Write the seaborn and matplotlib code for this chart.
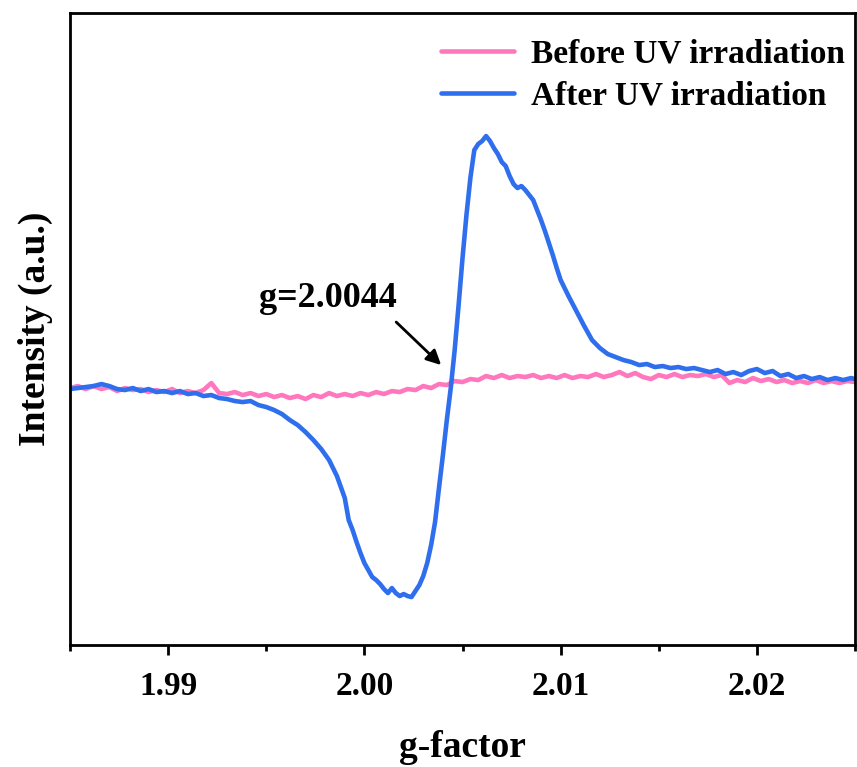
import matplotlib
matplotlib.use("Agg")
import matplotlib.pyplot as plt
import seaborn as sns
import pandas as pd

# EPR spectra (g-factor vs. intensity, arbitrary units)
g_before = [
    1.9850, 1.9854, 1.9858, 1.9862, 1.9866, 1.9870, 1.9874, 1.9878, 1.9882, 1.9886,
    1.9890, 1.9894, 1.9898, 1.9902, 1.9906, 1.9910, 1.9914, 1.9918, 1.9922, 1.9926,
    1.9930, 1.9934, 1.9938, 1.9942, 1.9946, 1.9950, 1.9954, 1.9958, 1.9962, 1.9966,
    1.9970, 1.9974, 1.9978, 1.9982, 1.9986, 1.9990, 1.9994, 1.9998, 2.0002, 2.0006,
    2.0010, 2.0014, 2.0018, 2.0022, 2.0026, 2.0030, 2.0034, 2.0038, 2.0042, 2.0046,
    2.0050, 2.0054, 2.0058, 2.0062, 2.0066, 2.0070, 2.0074, 2.0078, 2.0082, 2.0086,
    2.0090, 2.0094, 2.0098, 2.0102, 2.0106, 2.0110, 2.0114, 2.0118, 2.0122, 2.0126,
    2.0130, 2.0134, 2.0138, 2.0142, 2.0146, 2.0150, 2.0154, 2.0158, 2.0162, 2.0166,
    2.0170, 2.0174, 2.0178, 2.0182, 2.0186, 2.0190, 2.0194, 2.0198, 2.0202, 2.0206,
    2.0210, 2.0214, 2.0218, 2.0222, 2.0226, 2.0230, 2.0234, 2.0238, 2.0242, 2.0246,
    2.0250,
]
intensity_before = [
    0, 2, -1, 2, -1, 1, -3, 0, -2, -1,
    -4, -2, -4, -1, -5, -3, -5, -2, 5, -5,
    -6, -4, -7, -5, -8, -6, -9, -7, -10, -8,
    -11, -7, -9, -5, -8, -6, -8, -5, -7, -4,
    -6, -3, -4, -1, -2, 2, 0, 4, 3, 7,
    6, 9, 8, 12, 10, 13, 10, 12, 11, 13,
    10, 12, 10, 13, 10, 12, 11, 14, 11, 13,
    16, 12, 15, 11, 9, 13, 11, 14, 11, 13,
    12, 14, 11, 13, 5, 8, 6, 10, 7, 9,
    6, 8, 5, 7, 5, 8, 5, 7, 5, 7,
    6,
]

g_after = [
    1.9850, 1.9854, 1.9858, 1.9862, 1.9866, 1.9870, 1.9874, 1.9878, 1.9882, 1.9886,
    1.9890, 1.9894, 1.9898, 1.9902, 1.9906, 1.9910, 1.9914, 1.9918, 1.9922, 1.9926,
    1.9930, 1.9934, 1.9938, 1.9942, 1.9946, 1.9950, 1.9954, 1.9958, 1.9962, 1.9966,
    1.9970, 1.9974, 1.9978, 1.9982, 1.9986, 1.9990,
    1.9992, 1.9994, 1.9996, 1.9998, 2.0000, 2.0002, 2.0004, 2.0006, 2.0008, 2.0010,
    2.0012, 2.0014, 2.0016, 2.0018, 2.0020, 2.0022, 2.0024, 2.0026, 2.0028, 2.0030,
    2.0032, 2.0034, 2.0036, 2.0038, 2.0040, 2.0042, 2.0044, 2.0046, 2.0048, 2.0050,
    2.0052, 2.0054, 2.0056, 2.0058, 2.0060, 2.0062, 2.0064, 2.0066, 2.0068, 2.0070,
    2.0072, 2.0074, 2.0076, 2.0078, 2.0080, 2.0082, 2.0084, 2.0086, 2.0088, 2.0090,
    2.0092, 2.0094, 2.0096, 2.0098, 2.0100,
    2.0104, 2.0108, 2.0112, 2.0116, 2.0120, 2.0124, 2.0128, 2.0132, 2.0136, 2.0140,
    2.0144, 2.0148, 2.0152, 2.0156, 2.0160, 2.0164, 2.0168, 2.0172, 2.0176, 2.0180,
    2.0184, 2.0188, 2.0192, 2.0196, 2.0200, 2.0204, 2.0208, 2.0212, 2.0216, 2.0220,
    2.0224, 2.0228, 2.0232, 2.0236, 2.0240, 2.0244, 2.0248, 2.0250,
]
intensity_after = [
    -1, 0, 1, 2, 4, 2, -1, -2, 0, -3,
    -1, -4, -3, -5, -3, -6, -5, -8, -7, -10,
    -11, -13, -14, -13, -17, -19, -22, -26, -32, -37,
    -44, -52, -61, -72, -88, -110,
    -132, -142, -154, -165, -175, -182, -189, -192, -196, -201,
    -205, -200, -205, -208, -206, -208, -209, -203, -197, -188,
    -175, -157, -134, -100, -67, -32, 0, 38, 83, 130,
    173, 210, 238, 244, 247, 252, 247, 240, 234, 226,
    222, 212, 204, 200, 202, 198, 193, 188, 178, 168,
    157, 145, 133, 120, 108,
    92, 77, 62, 48, 40, 34, 31, 28, 26, 23,
    24, 21, 22, 20, 21, 19, 20, 18, 16, 18,
    14, 16, 13, 17, 19, 15, 17, 12, 14, 10,
    12, 9, 11, 8, 10, 8, 10, 9,
]

labels = ["Before UV irradiation", "After UV irradiation"]
colors = ["#FF78BE", "#2F6FEE"]
x_ticks = [1.99, 2.00, 2.01, 2.02]
x_tick_labels = ["1.99", "2.00", "2.01", "2.02"]
g_marked = 2.0044

sns.set_style("ticks")
plt.rcParams["font.family"] = ["Liberation Serif", "DejaVu Serif"]
plt.rcParams["font.weight"] = "bold"
plt.rcParams["axes.labelweight"] = "bold"
plt.rcParams["text.color"] = "black"
plt.rcParams["axes.labelcolor"] = "black"
plt.rcParams["xtick.color"] = "black"
plt.rcParams["xtick.labelcolor"] = "black"

fig = plt.figure(figsize=(8.57, 7.67), dpi=100)
ax = fig.add_axes([0.0817, 0.159, 0.916, 0.824])

df_before = pd.DataFrame({"g": g_before, "I": intensity_before})
df_after = pd.DataFrame({"g": g_after, "I": intensity_after})

sns.lineplot(data=df_before, x="g", y="I", ax=ax, color=colors[0], lw=3.3,
             label=labels[0], sort=False, estimator=None)
sns.lineplot(data=df_after, x="g", y="I", ax=ax, color=colors[1], lw=3.3,
             label=labels[1], sort=False, estimator=None)

ax.set_xlim(1.985, 2.025)
ax.set_ylim(-257, 375)

ax.set_xticks(x_ticks)
ax.set_xticklabels(x_tick_labels)
ax.set_xticks([1.985, 1.995, 2.005, 2.015, 2.025], minor=True)
ax.set_yticks([])
ax.tick_params(axis="x", which="major", direction="out", length=7, width=2,
               labelsize=24, pad=12, color="black", labelcolor="black")
ax.tick_params(axis="x", which="minor", direction="out", length=4, width=2,
               color="black")
for lab in ax.get_xticklabels():
    lab.set_fontweight("bold")

for side in ["left", "right", "top", "bottom"]:
    ax.spines[side].set_visible(True)
    ax.spines[side].set_linewidth(2)
    ax.spines[side].set_color("black")

ax.set_xlabel("g-factor", fontsize=27, fontweight="bold", labelpad=20, color="black")
ax.set_ylabel("Intensity (a.u.)", fontsize=27, fontweight="bold", labelpad=12, color="black")

# marker for the zero crossing of the derivative signal
ax.text(1.99812, 90, f"g={g_marked:.4f}", fontsize=26, fontweight="bold",
        ha="center", va="center", color="black")
ax.annotate(
    "", xy=(2.00391, 23), xytext=(2.00162, 66),
    arrowprops=dict(arrowstyle="-|>", color="black", lw=2, mutation_scale=22,
                    shrinkA=0, shrinkB=0),
)

leg = ax.legend(loc="upper right", bbox_to_anchor=(0.987, 0.96), frameon=False,
                handlelength=2.2, handletextpad=0.5, labelspacing=0.33,
                borderaxespad=0, borderpad=0, prop={"weight": "bold", "size": 24})
for line in leg.get_lines():
    line.set_linewidth(3.3)
for t in leg.get_texts():
    t.set_color("black")

fig.savefig("out.png", dpi=100)
